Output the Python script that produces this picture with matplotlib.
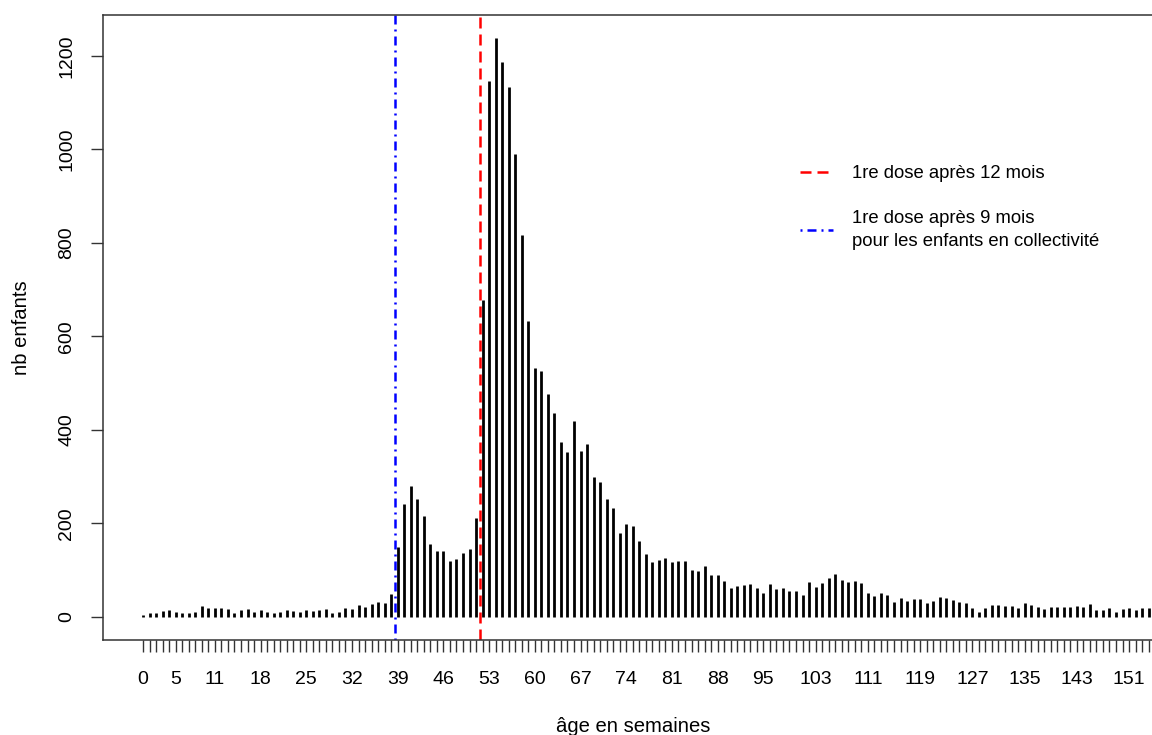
import numpy as np
import matplotlib
matplotlib.use("Agg")
import matplotlib.pyplot as plt
from matplotlib.lines import Line2D

plt.rcParams["font.family"] = ["Liberation Sans", "DejaVu Sans"]
plt.rcParams["lines.scale_dashes"] = False

# Number of children by age at first dose (weeks)
counts = [
    5, 8, 9, 12, 14, 10, 8, 9, 11, 23, 19, 19, 18, 17, 9, 14, 16, 11, 14,
    11, 9, 11, 15, 12, 11, 14, 13, 14, 17, 9, 11, 19, 16, 26, 22, 28, 31, 30, 48,
    150, 242, 280, 253, 215, 156, 140, 140, 120, 123, 137, 146, 211, 678,
    1147, 1238, 1188, 1134, 990, 817, 633, 533, 525, 477, 437, 374, 352, 419,
    355, 369, 300, 289, 253, 232, 180, 199, 194, 163, 135, 118, 122, 125, 118,
    120, 120, 101, 98, 108, 90, 89, 76, 61, 66, 68, 71, 62, 51, 70, 59, 62,
    55, 56, 46, 74, 64, 73, 84, 91,
    78, 74, 77, 73, 50, 45, 52, 46, 31, 41, 34, 38, 39, 29, 34, 43, 41, 35,
    31, 29, 19, 11, 18, 25, 25, 24, 24, 19, 30, 25, 21, 16, 21, 21, 21, 22,
    23, 21, 27, 15, 14, 18, 10, 17, 19, 14, 18, 18,
]
weeks = np.arange(len(counts))

# Week labels printed under the axis (the others stay blank)
shown_labels = [0, 5, 11, 18, 25, 32, 39, 46, 53, 60, 67, 74, 81, 88, 95,
                103, 111, 119, 127, 135, 143, 151]
y_ticks = [0, 200, 400, 600, 800, 1000, 1200]

# Recommended ages for the first dose, in months
dose_months = {"general": 12, "collectivite": 9}
legend_labels = ["1re dose après 12 mois",
                 "1re dose après 9 mois\npour les enfants en collectivité"]
weeks_per_month = 30.4375 / 7

W, H = 1152, 735
fig = plt.figure(figsize=(W / 100, H / 100), dpi=100)

x_lo, x_hi = -6.13, 158.0
px_per_week = 6.53
left_px, top_px, bottom_px = 103, 15, 640
ax_w_px = (x_hi - x_lo) * px_per_week
ax = fig.add_axes([left_px / W, (H - bottom_px) / H,
                   ax_w_px / W, (bottom_px - top_px) / H])

ax.vlines(weeks, 0, counts, colors="black", linewidth=2.0, capstyle="butt")

# Vertical markers at the boundary of the week containing the dose age
px = 100 / 72
red_style = (0, (11 / px, 6 / px))
blue_style = (0, (2 / px, 5 / px, 9 / px, 5 / px))
ax.axvline(dose_months["general"] * weeks_per_month - 0.5, color="red",
           linewidth=1.8, linestyle=red_style)
ax.axvline(dose_months["collectivite"] * weeks_per_month - 0.5, color="blue",
           linewidth=1.8, linestyle=blue_style)

ax.set_xlim(x_lo, x_hi)
ax.set_ylim(-49.5, 1287.5)

tick_pos = np.arange(0, int(x_hi) + 1)
ax.set_xticks(tick_pos)
ax.set_xticklabels([str(w) if w in shown_labels else "" for w in tick_pos])
ax.set_yticks(y_ticks)
ax.set_yticklabels([str(v) for v in y_ticks], rotation=90, va="center")

ax.tick_params(axis="both", length=8.6, width=1.0, color="#333333",
               labelsize=14, labelcolor="black")
ax.tick_params(axis="x", pad=14)
ax.tick_params(axis="y", pad=11.5)

for sp in ax.spines.values():
    sp.set_color("#333333")
    sp.set_linewidth(1.1)

ax.set_xlabel("âge en semaines", fontsize=14.6)
ax.xaxis.set_label_coords((633 - left_px) / ax_w_px, -0.123)
ax.set_ylabel("nb enfants", fontsize=14.6)
ax.yaxis.set_label_coords((31 - left_px) / ax_w_px, 0.5)

handles = [
    Line2D([], [], color="red", linewidth=1.8, linestyle=red_style),
    Line2D([], [], color="blue", linewidth=1.8, linestyle=blue_style),
]
leg = fig.legend(handles, legend_labels, loc="upper left",
                 bbox_to_anchor=(800 / W, 1 - 165 / H), frameon=False,
                 fontsize=13.3, borderpad=0, borderaxespad=0,
                 handlelength=1.8, handletextpad=1.0, labelspacing=1.5)
for t in leg.get_texts():
    t.set_linespacing(1.45)

fig.savefig("out.png", dpi=100)
